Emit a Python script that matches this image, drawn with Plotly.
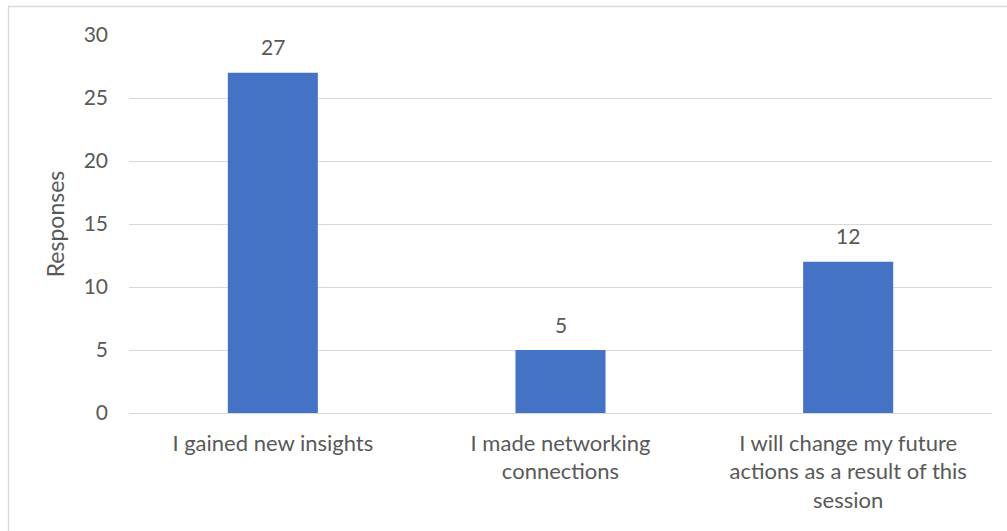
import plotly.graph_objects as go

categories = ["I gained new insights",
              "I made networking<br>connections",
              "I will change my future<br>actions as a result of this<br>session"]
values = [27, 5, 12]
y_ticks = [0, 5, 10, 15, 20, 25, 30]

FONT = "Lato, Open Sans, sans-serif"
TXT = "#595959"
GRID = "#D9D9D9"

fig = go.Figure()
fig.add_trace(go.Bar(x=categories, y=values, marker=dict(color="#4472C4", line=dict(width=0)),
                     width=0.313, hoverinfo="skip"))

for c, v in zip(categories, values):
    fig.add_annotation(x=c, y=v, text=str(v), showarrow=False, yanchor="middle",
                       yshift=26, font=dict(family=FONT, size=21, color=TXT))

W, H = 1007, 531
L, R, T, B = 129, 15, 35, 118
pw, ph = W - L - R, H - T - B
fig.add_shape(type="rect", xref="paper", yref="paper",
              x0=(8.5 - L) / pw, x1=(1012 - L) / pw,
              y0=1 - (545 - T) / ph, y1=1 - (6.5 - T) / ph,
              line=dict(color=GRID, width=1.3), fillcolor="rgba(0,0,0,0)", layer="below")

fig.update_layout(
    width=W, height=H, margin=dict(l=L, r=R, t=T, b=B, pad=0),
    paper_bgcolor="white", plot_bgcolor="white", showlegend=False,
    font=dict(family=FONT, size=22, color=TXT),
    xaxis=dict(showgrid=False, showline=True, linecolor=GRID, linewidth=1.3,
               ticks="", ticklabelstandoff=10, tickfont=dict(size=22, color=TXT)),
    yaxis=dict(range=[0, 30], tickvals=y_ticks, showgrid=True, gridcolor=GRID,
               gridwidth=1.3, zeroline=False, showline=False, ticks="",
               ticklabelstandoff=20, tickfont=dict(size=21, color=TXT),
               title=dict(text="Responses", standoff=12, font=dict(size=23, color=TXT))),
)

fig.write_html("out.html", config={"displayModeBar": False},
               post_script="document.body.style.margin='0';document.body.style.overflow='hidden';")
